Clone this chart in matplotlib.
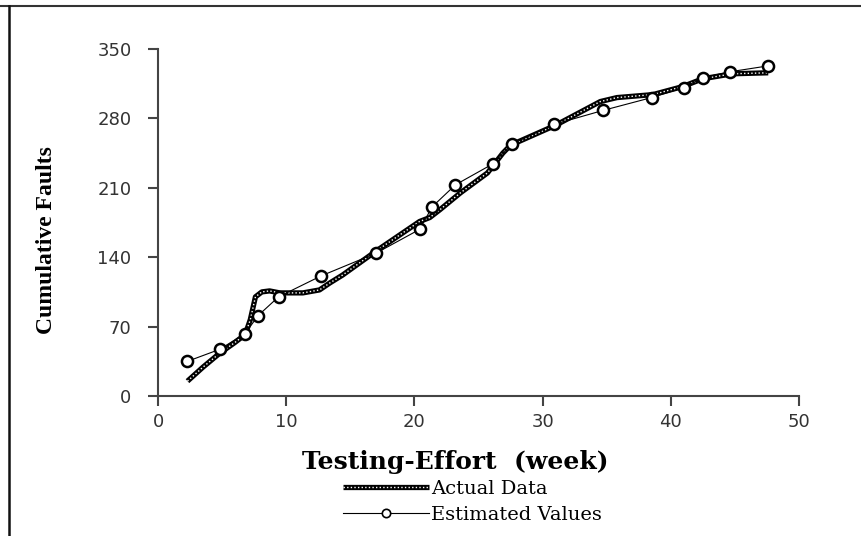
import matplotlib
matplotlib.use("Agg")
import matplotlib.pyplot as plt
from matplotlib.lines import Line2D

# Actual data
actual_x = [2.3, 3.5, 4.8, 6.0, 6.8, 7.2, 7.6, 8.1, 8.7, 9.5, 11.3, 12.6, 13.4, 14.4,
            17.1, 20.4, 21.2, 22.0, 23.6, 25.7, 26.9, 27.5, 31.0, 34.5, 35.8, 38.6,
            40.9, 42.5, 44.8, 47.6]
actual_y = [15, 29, 43, 54, 62, 77, 100, 105, 106, 104, 104, 107, 114, 122,
            147, 176, 180, 188, 205, 225, 245, 253, 273, 297, 301, 304,
            312, 320, 325, 326]

# Estimated values
est_x = [2.3, 4.8, 6.8, 7.8, 9.4, 12.7, 17.0, 20.4, 21.4, 23.2, 26.1, 27.6,
         30.9, 34.7, 38.5, 41.0, 42.5, 44.6, 47.6]
est_y = [35, 47, 63, 81, 100, 121, 144, 168, 191, 213, 234, 254,
         274, 288, 301, 311, 321, 327, 333]

x_ticks = [0, 10, 20, 30, 40, 50]
y_ticks = [0, 70, 140, 210, 280, 350]

W, H = 861, 536
fig = plt.figure(figsize=(W / 100, H / 100), dpi=100)
ax = fig.add_axes([158 / W, 1 - 396 / H, (799 - 158) / W, (396 - 49) / H])

axis_color = "#444444"
l_act_black, = ax.plot(actual_x, actual_y, color="black", lw=3.8,
                       solid_capstyle="butt", zorder=2)
l_act_white, = ax.plot(actual_x, actual_y, color="white", lw=1.0,
                       dashes=(1, 1.6), zorder=3)
l_est, = ax.plot(est_x, est_y, color="black", lw=0.8, marker="o", ms=8,
                 mfc="white", mec="black", mew=1.8, zorder=4)

ax.set_xlim(0, 50)
ax.set_ylim(0, 350)
ax.set_xticks(x_ticks)
ax.set_yticks(y_ticks)
ax.set_xticklabels([str(v) for v in x_ticks])
ax.set_yticklabels([str(v) for v in y_ticks])
for s in ["top", "right"]:
    ax.spines[s].set_visible(False)
for s in ["left", "bottom"]:
    ax.spines[s].set_color(axis_color)
    ax.spines[s].set_linewidth(1.5)
ax.tick_params(axis="both", direction="out", length=7, width=1.5, color=axis_color,
               labelsize=13, labelcolor="#333333")
ax.tick_params(axis="y", pad=12)
ax.tick_params(axis="x", pad=5)
for lab in ax.get_xticklabels() + ax.get_yticklabels():
    lab.set_fontfamily("DejaVu Sans")

# Axis titles
fig.text(47 / W, 1 - 240 / H, "Cumulative Faults", rotation=90, ha="center", va="center",
         fontsize=17, fontweight="bold", family="Liberation Serif")
fig.text(455 / W, 1 - 462 / H, "Testing-Effort  (week)", ha="center", va="center",
         fontsize=18, fontweight="bold", family="DejaVu Serif")

# Legend
leg_handles = [(l_act_black, l_act_white), l_est]
leg = fig.legend(leg_handles, ["Actual Data", "Estimated Values"],
                 loc="center left", bbox_to_anchor=(343 / W, 1 - 502 / H),
                 frameon=False, borderpad=0, borderaxespad=0,
                 handlelength=4.4, handletextpad=0.15, labelspacing=0.42,
                 prop={"family": "DejaVu Serif", "size": 14})
for h in leg.legend_handles:
    try:
        h.set_markersize(6)
        h.set_markeredgewidth(1.2)
    except Exception:
        pass

# Figure border (top and left)
fig.add_artist(Line2D([0, 1], [1 - 6 / H, 1 - 6 / H], transform=fig.transFigure,
                      color="#333333", lw=1.5))
fig.add_artist(Line2D([9 / W, 9 / W], [0, 1 - 6 / H], transform=fig.transFigure,
                      color="#111111", lw=1.8))

fig.savefig("out.png", dpi=100)
